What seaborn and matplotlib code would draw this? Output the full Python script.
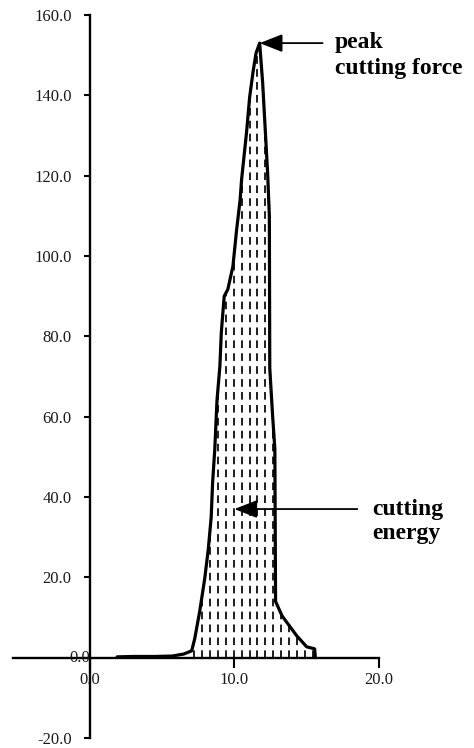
import numpy as np
import pandas as pd
import matplotlib
matplotlib.use("Agg")
import matplotlib.pyplot as plt
import seaborn as sns

# Force-displacement record of one cut
displacement = [1.9, 3.0, 4.5, 5.7, 6.5, 7.05, 7.26, 7.6, 7.95, 8.2, 8.4, 8.5, 8.65,
                8.8, 9.0, 9.1, 9.3, 9.55, 9.9, 10.16, 10.4, 10.5, 10.85, 11.06, 11.3,
                11.5, 11.75, 11.96, 12.3, 12.42, 12.45, 12.65, 12.8, 12.85, 13.3, 14.3,
                15.0, 15.55, 15.6]
force = [0.2, 0.3, 0.3, 0.4, 0.9, 1.7, 4.7, 11.4, 19.6, 27.0, 35.0, 43.7, 52.0,
         64.0, 72.5, 81.0, 90.0, 91.7, 97.4, 106.6, 114.0, 119.0, 131.0, 139.6, 146.0,
         150.5, 153.0, 143.0, 120.7, 110.0, 72.0, 60.0, 52.0, 14.0, 10.4, 5.5,
         2.7, 2.2, 0.0]

x_ticks = [0.0, 10.0, 20.0]
y_ticks = [-20.0, 0.0, 20.0, 40.0, 60.0, 80.0, 100.0, 120.0, 140.0, 160.0]

peak_label = "peak\ncutting force"
energy_label = "cutting\nenergy"
energy_point = (10.0, 37.0)

df = pd.DataFrame({"displacement": displacement, "force": force})

sns.set_theme(style="white")
plt.rcParams["font.family"] = ["Liberation Serif", "DejaVu Serif"]
plt.rcParams["lines.scale_dashes"] = False

fig = plt.figure(figsize=(4.74, 7.48), dpi=100)
ax = fig.add_axes([13 / 474, 10 / 748, 366 / 474, 723 / 748])
ax.set_xlim(-5.3, 20.0)
ax.set_ylim(-20.0, 160.0)

# area under the curve (cutting energy), hatched with dashed verticals
area = ax.fill_between(df["displacement"], df["force"], 0,
                       facecolor="white", edgecolor="none", zorder=1)
hatch_x = np.arange(7.2, 15.7, 0.55)
hatch = ax.vlines(hatch_x, 0, 160, colors="#1e1e1e", linewidth=1.4,
                  linestyles=[(0, (5.5, 3.8))], zorder=2)
hatch.set_clip_path(area.get_paths()[0], ax.transData)

sns.lineplot(data=df, x="displacement", y="force", sort=False, estimator=None,
             color="black", linewidth=2.3, ax=ax, zorder=3)

# axes crossing at the origin
for side in ("top", "right"):
    ax.spines[side].set_visible(False)
ax.spines["left"].set_position(("data", 0))
ax.spines["bottom"].set_position(("data", 0))
for side in ("left", "bottom"):
    ax.spines[side].set_color("black")
    ax.spines[side].set_linewidth(1.7)
    ax.spines[side].set_zorder(4)

ax.set_xticks(x_ticks)
ax.set_xticklabels([f"{v:.1f}" for v in x_ticks])
ax.set_yticks(y_ticks)
ax.set_yticklabels(["" if v == 0 else f"{v:.1f}" for v in y_ticks])
ax.tick_params(axis="y", direction="out", length=4, width=1.5, pad=9,
               labelsize=12, labelcolor="#1a1a1a", color="black", left=True)
ax.tick_params(axis="x", direction="out", length=7, width=1.5, pad=3,
               labelsize=12, labelcolor="#1a1a1a", color="black", bottom=True)
ax.annotate("0.0", xy=(0, 0), xytext=(0, 0), textcoords="offset points",
            ha="right", va="center", fontsize=12, color="#1a1a1a", zorder=5)
ax.set_xlabel("")
ax.set_ylabel("")
ax.grid(False)

# annotations
peak_i = int(np.argmax(force))
peak_xy = (displacement[peak_i], force[peak_i])
arrow = dict(arrowstyle="-|>,head_length=14,head_width=5.5", mutation_scale=1,
             color="black", lw=1.3, shrinkA=0, shrinkB=0)
ax.annotate("", xy=peak_xy, xytext=(16.1, peak_xy[1]), arrowprops=arrow, zorder=6)
ax.text(16.93, 155.8, peak_label, ha="left", va="top", fontsize=17,
        fontweight="bold", linespacing=1.35, color="black")

ax.annotate("", xy=energy_point, xytext=(18.5, energy_point[1]), arrowprops=arrow, zorder=6)
ax.text(19.5, 39.5, energy_label, ha="left", va="top", fontsize=17,
        fontweight="bold", linespacing=1.2, color="black")

fig.savefig("out.png", dpi=100)
